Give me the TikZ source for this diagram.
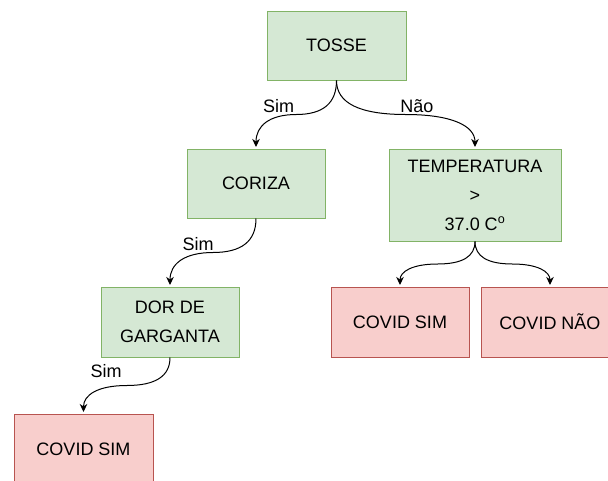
\documentclass[tikz,border=0pt]{standalone}
\usepackage{fontspec}
\setmainfont{Liberation Sans}
\usetikzlibrary{arrows.meta,calc}
\definecolor{gfill}{HTML}{D5E8D4}
\definecolor{gline}{HTML}{82B366}
\definecolor{rfill}{HTML}{F8CECC}
\definecolor{rline}{HTML}{B85450}
\tikzset{
  box/.style={rectangle, inner sep=0pt, line width=1pt, align=center,
    font=\fontsize{18}{29}\selectfont},
  gbox/.style={box, fill=gfill, draw=gline},
  rbox/.style={box, fill=rfill, draw=rline},
  lbl/.style={inner sep=0pt, font=\fontsize{18}{22}\selectfont},
  sc/.style={to path={let \p1=(\tikztostart),\p2=(\tikztotarget) in
    .. controls (\x1,{\y1+(\y2-\y1)/3}) and ({\x1+(\x2-\x1)/6},{(\y1+\y2)/2})
    .. ({(\x1+\x2)/2},{(\y1+\y2)/2})
    .. controls ({\x2-(\x2-\x1)/6},{(\y1+\y2)/2}) and (\x2,{\y2-(\y2-\y1)/3})
    .. (\tikztotarget)}},
  edge/.style={draw, line width=1pt, -{Stealth[length=8pt,width=7.5pt,inset=2.5pt]}, shorten >=1.5pt}
}
\begin{document}
\begin{tikzpicture}[x=1pt,y=-1pt]
\useasboundingbox (0,0) rectangle (608,480);
\clip (0,0) rectangle (608,480);
\node[gbox, minimum width=139pt, minimum height=69pt] (tosse) at (336.5,45.5) {TOSSE};
\node[gbox, minimum width=138pt, minimum height=69pt] (coriza) at (256,183.5) {CORIZA};
\node[gbox, minimum width=172pt, minimum height=92pt] (temp) at (475,195) {TEMPERATURA\\>\\37.0 C\textsuperscript{o}};
\node[gbox, minimum width=138pt, minimum height=70pt] (dor) at (170,322) {DOR DE\\GARGANTA};
\node[rbox, minimum width=138pt, minimum height=70pt] (cs1) at (400,322) {COVID SIM};
\node[rbox, minimum width=138pt, minimum height=70pt] (cn) at (550,322) {COVID NÃO};
\node[rbox, minimum width=139pt, minimum height=70pt] (cs2) at (83.5,449) {COVID SIM};
\path[edge] (tosse.south) to[sc] (coriza.north);
\path[edge] (tosse.south) to[sc] (temp.north);
\path[edge] (coriza.south) to[sc] (dor.north);
\path[edge] (dor.south) to[sc] (cs2.north);
\path[edge] (temp.south) to[sc] (cs1.north);
\path[edge] (temp.south) to[sc] (cn.north);
\node[lbl] (l1) at (278.5,106) {Sim};
\node[lbl] (l2) at (417,106) {Não};
\node[lbl] (l3) at (198,244) {Sim};
\node[lbl] (l4) at (106,371) {Sim};
\end{tikzpicture}
\end{document}
